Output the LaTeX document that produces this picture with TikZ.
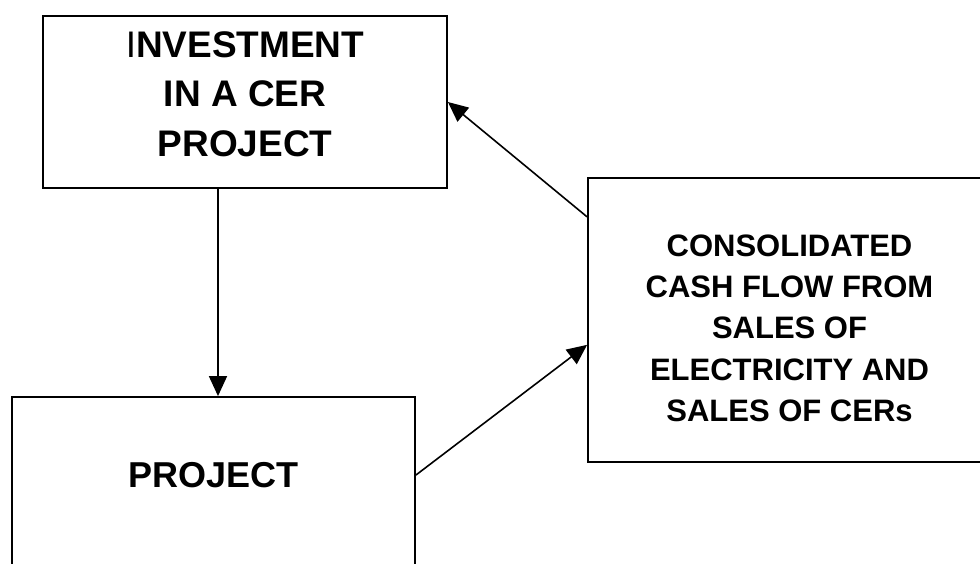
\documentclass[tikz,border=0pt]{standalone}
\usepackage{fontspec}
\setmainfont{Liberation Sans}
\usetikzlibrary{arrows.meta}
\tikzset{
  block/.style={draw, rectangle, line width=1.8pt, align=center, inner sep=0pt},
  arrow/.style={-{Triangle[length=20pt,width=18pt]}, line width=1.6pt}
}
\begin{document}
\begin{tikzpicture}[x=1pt, y=-1pt]
    \useasboundingbox (0,0) rectangle (980,564);
    \clip (0,0) rectangle (980,564);
    \node[block, minimum width=404pt, minimum height=172pt, text depth=16pt,
          font=\fontsize{37}{49.5}\selectfont\bfseries] (invest) at (245,102)
          {{\mdseries I}NVESTMENT\\IN A CER\\PROJECT};
    \node[block, minimum width=403pt, minimum height=213pt, text depth=57pt,
          font=\fontsize{36}{43}\selectfont\bfseries] (project) at (213.5,503.5) {PROJECT};
    \node[block, minimum width=403pt, minimum height=284pt,
          font=\fontsize{31}{41.25}\selectfont\bfseries] (cash) at (789.5,320)
          {\rule{0pt}{38pt}CONSOLIDATED\\CASH FLOW FROM\\SALES OF\\ELECTRICITY AND\\SALES OF CERs};
    \draw[arrow] (invest.south -| 218,0) -- (project.north -| 218,0);
    \draw[arrow] (cash.153.5) -- (invest.east);
    \draw[arrow] (project.8) -- (cash.187);
\end{tikzpicture}
\end{document}
